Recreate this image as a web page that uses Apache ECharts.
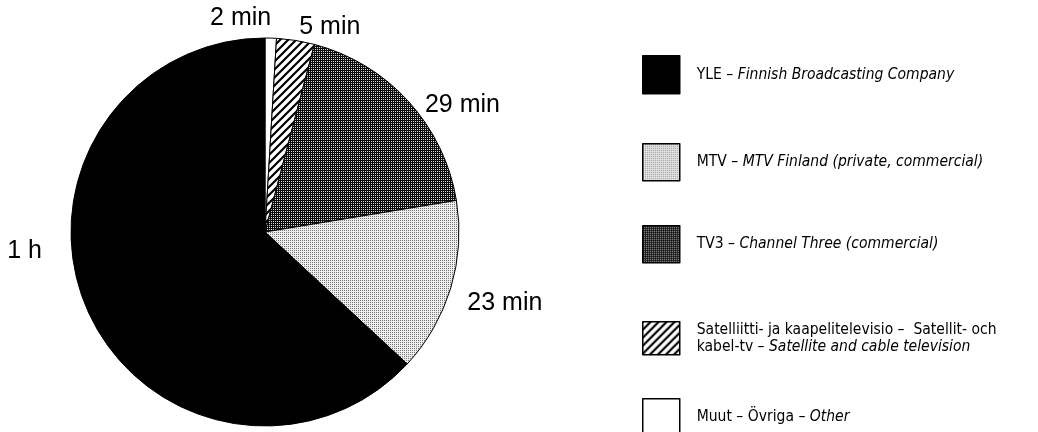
<!DOCTYPE html>
<html><head><meta charset="utf-8">
<script src="https://cdn.jsdelivr.net/npm/echarts@6/dist/echarts.min.js"></script>
<style>html,body{margin:0;padding:0;background:#fff}#c{width:1038px;height:432px}</style>
</head><body><div id="c"></div>
<script>
// Slices in clockwise order starting at 12 o'clock
const categories = ['Other', 'Satellite', 'TV3', 'MTV', 'YLE'];
const minutes = [1.5, 5, 29, 23, 100];
const sliceLabels = ['2 min', '5 min', '29 min', '23 min', '1 h'];
// Legend (top to bottom)
const legendOrder = ['YLE', 'MTV', 'TV3', 'Satellite', 'Other'];
const legendPlain = ['YLE – ', 'MTV – ', 'TV3 – ', 'Satelliitti- ja kaapelitelevisio –  Satellit- och\nkabel-tv – ', 'Muut – Övriga – '];
const legendItalic = ['Finnish Broadcasting Company', 'MTV Finland (private, commercial)', 'Channel Three (commercial)', 'Satellite and cable television', 'Other'];

function tile(w, h, draw) {
  const c = document.createElement('canvas');
  c.width = w; c.height = h;
  const x = c.getContext('2d');
  draw(x, w, h);
  return { image: c, repeat: 'repeat' };
}
const fillLight = tile(2, 2, (x) => { x.fillStyle = '#eeeeee'; x.fillRect(0, 0, 2, 2); x.fillStyle = '#777777'; x.fillRect(0, 0, 1, 1); });
const fillDark = tile(2, 2, (x) => { x.fillStyle = '#0a0a0a'; x.fillRect(0, 0, 2, 2); x.fillStyle = '#d8d8d8'; x.fillRect(1, 1, 1, 1); });
const fillHatch = tile(8, 8, (x) => {
  x.fillStyle = '#fff'; x.fillRect(0, 0, 8, 8);
  x.strokeStyle = '#000'; x.lineWidth = 2.2;
  x.beginPath();
  x.moveTo(-1, 9); x.lineTo(9, -1);
  x.moveTo(-1, 1); x.lineTo(1, -1);
  x.moveTo(7, 9); x.lineTo(9, 7);
  x.stroke();
});
const fills = { Other: '#ffffff', Satellite: fillHatch, TV3: fillDark, MTV: fillLight, YLE: '#000000' };

// small label nudges (pixels) relative to the library's outside label placement
const labelDx = [-66, -3, 4, 2, -31];
const labelDy = [-10, -3, 10, 12, -62];

const legendTops = [55, 143, 225, 321, 398];
const legendIconH = [38, 37, 37, 33, 37];
const narrow = "'Liberation Sans Narrow', 'DejaVu Sans Condensed', 'Roboto Condensed', 'Liberation Sans', sans-serif";

const chart = echarts.init(document.getElementById('c'), null, { renderer: 'canvas' });
chart.setOption({
  animation: false,
  backgroundColor: '#fff',
  legend: legendOrder.map((k, i) => ({
    data: [k],
    left: 642,
    top: legendTops[i],
    padding: 0,
    orient: 'vertical',
    icon: 'rect',
    itemWidth: 37,
    itemHeight: legendIconH[i],
    selectedMode: false,
    itemStyle: { borderColor: '#000', borderWidth: 1.5 },
    formatter: () => legendPlain[i].split('\n').map((s, j, arr) =>
      '{n|' + s + '}' + (j === arr.length - 1 ? '{i|' + legendItalic[i] + '}' : '')).join('\n'),
    textStyle: {
      padding: [0, 0, 0, 12],
      rich: {
        n: { fontFamily: narrow, fontSize: 15.5, color: '#000', lineHeight: 17 },
        i: { fontFamily: narrow, fontSize: 15.5, fontStyle: 'italic', color: '#000', lineHeight: 17 }
      }
    }
  })),
  series: [{
    type: 'pie',
    center: [265, 232],
    radius: 194,
    startAngle: 90,
    clockwise: true,
    avoidLabelOverlap: false,
    emphasis: { disabled: true },
    itemStyle: { borderColor: '#000', borderWidth: 1 },
    label: {
      show: true,
      position: 'outside',
      formatter: (p) => sliceLabels[p.dataIndex],
      fontFamily: "'Liberation Sans', Arial, sans-serif",
      fontSize: 25,
      color: '#000'
    },
    labelLine: { show: false, length: 10, length2: 0 },
    labelLayout: (p) => ({ dx: labelDx[p.dataIndex], dy: labelDy[p.dataIndex], hideOverlap: false }),
    data: categories.map((c, i) => ({ name: c, value: minutes[i], itemStyle: { color: fills[c] } }))
  }]
});
</script></body></html>
